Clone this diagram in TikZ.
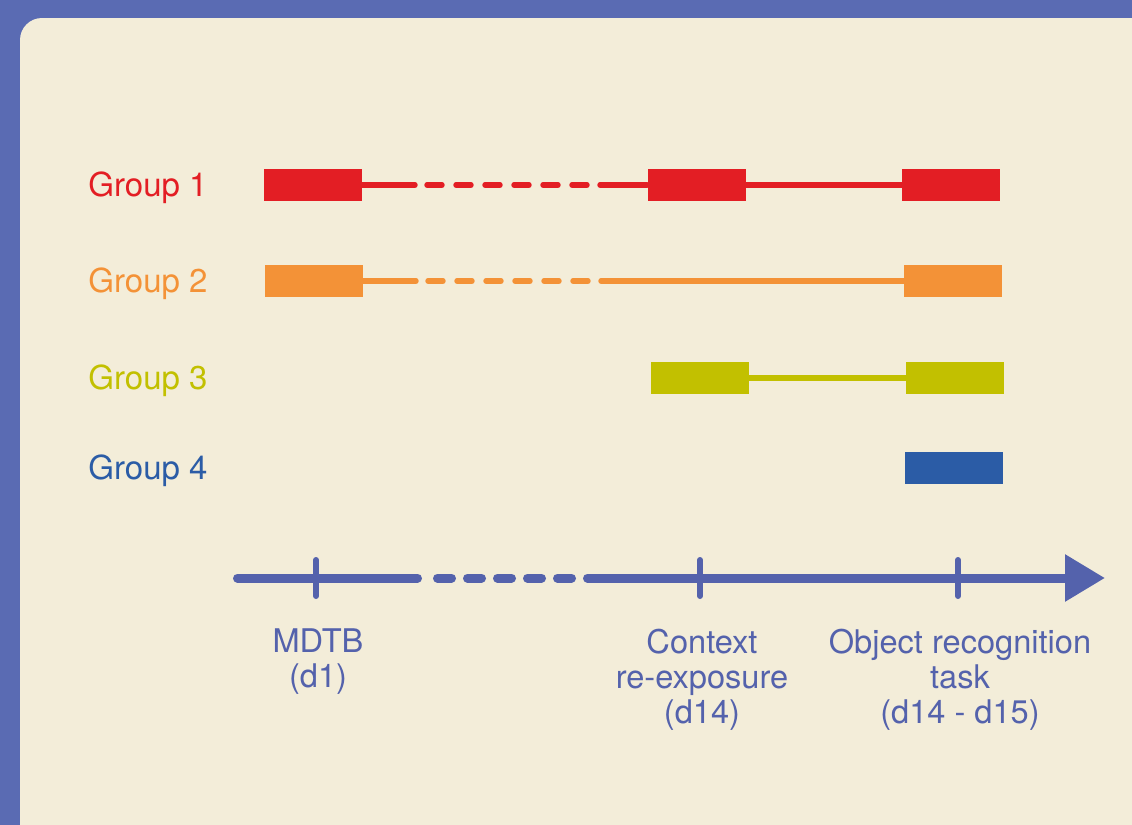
\documentclass[tikz,border=0pt]{standalone}
\usepackage{fontspec}
\setmainfont{TeX Gyre Heros}
\usetikzlibrary{arrows.meta}
\definecolor{frameblue}{HTML}{5A6BB3}
\definecolor{paper}{HTML}{F3EDD9}
\definecolor{axisblue}{HTML}{5462AC}
\definecolor{gred}{HTML}{E31E24}
\definecolor{gorange}{HTML}{F39237}
\definecolor{golive}{HTML}{C2C000}
\definecolor{gblue}{HTML}{2B5CA6}

\begin{document}
\begin{tikzpicture}[x=0.5pt, y=-0.5pt,
  bar/.style={rectangle, inner sep=0pt, minimum width=49pt, minimum height=16pt, fill=#1},
  grouplabel/.style={anchor=base west, inner sep=0pt, text=#1, font=\fontsize{16.5}{20}\selectfont},
  link/.style={line width=2.7pt, line cap=round, draw=#1},
  dashlink/.style={link=#1, dash pattern=on 7.5pt off 7pt},
  axisline/.style={line width=4.5pt, line cap=round, draw=axisblue},
  tickmark/.style={line width=3pt, line cap=round, draw=axisblue},
  axislabel/.style={anchor=north, inner sep=0pt, align=center, text=axisblue, font=\fontsize{16.3}{17.5}\selectfont}]
\useasboundingbox (0,0) rectangle (1132,825);
\clip (0,0) rectangle (1132,825);
\fill[frameblue] (0,0) rectangle (1132,825);
\fill[paper, rounded corners=11pt] (20,18) rectangle (1160,850);

% group labels
\node[grouplabel=gred] (l1) at (88,196) {Group 1};
\node[grouplabel=gorange] (l2) at (88,292) {Group 2};
\node[grouplabel=golive] (l3) at (88,389) {Group 3};
\node[grouplabel=gblue] (l4) at (88,479) {Group 4};

% bars
\node[bar=gred] (g1a) at (312.5,185) {};
\node[bar=gred] (g1b) at (696.5,185) {};
\node[bar=gred] (g1c) at (951,185) {};
\node[bar=gorange] (g2a) at (313.5,281) {};
\node[bar=gorange] (g2b) at (953,281) {};
\node[bar=golive] (g3a) at (700,378) {};
\node[bar=golive] (g3b) at (955,378) {};
\node[bar=gblue] (g4a) at (954,468) {};

% group 1
\coordinate (g1s) at (415,185);
\coordinate (g1d) at (427,185);
\coordinate (g1e) at (587,185);
\coordinate (g1f) at (600,185);
\draw[link=gred] (g1a.east) -- (g1s);
\draw[dashlink=gred] (g1d) -- (g1e);
\draw[link=gred] (g1f) -- (g1b.west);
\draw[link=gred] (g1b.east) -- (g1c.west);

% group 2
\coordinate (g2s) at (416,281);
\coordinate (g2d) at (428,281);
\coordinate (g2e) at (588,281);
\coordinate (g2f) at (601,281);
\draw[link=gorange] (g2a.east) -- (g2s);
\draw[dashlink=gorange] (g2d) -- (g2e);
\draw[link=gorange] (g2f) -- (g2b.west);

% group 3
\draw[link=golive] (g3a.east) -- (g3b.west);

% time axis
\coordinate (a0) at (237.5,578);
\coordinate (a1) at (417.5,578);
\coordinate (a2) at (437.5,578);
\coordinate (a3) at (571.5,578);
\coordinate (a4) at (587.5,578);
\coordinate (a5) at (1105,578);
\draw[axisline] (a0) -- (a1);
\draw[axisline, dash pattern=on 7pt off 8pt] (a2) -- (a3);
\draw[axisline, -{Triangle[length=20pt, width=22.5pt]}] (a4) -- (a5);

\coordinate (t1) at (316,578);
\coordinate (t2) at (700,578);
\coordinate (t3) at (958,578);
\foreach \t in {t1,t2,t3}
  \draw[tickmark] ([yshift=9pt]\t) -- ([yshift=-9pt]\t);

% axis labels
\node[axislabel] (mdtb) at (318,628) {MDTB\\(d1)};
\node[axislabel] (ctx) at (702,629) {Context\\re-exposure\\(d14)};
\node[axislabel] (ort) at (960,629) {Object recognition\\task\\(d14 - d15)};
\end{tikzpicture}
\end{document}
